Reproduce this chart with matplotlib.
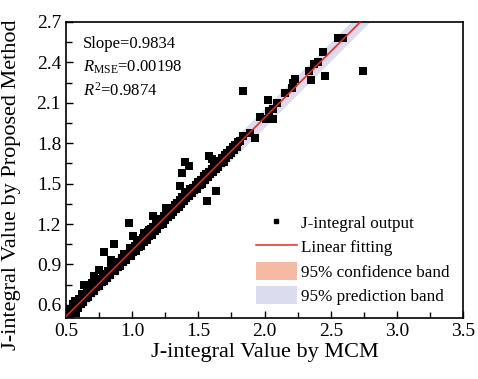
import numpy as np
import matplotlib as mpl
mpl.use('Agg')
from matplotlib import pyplot as plt
from matplotlib.lines import Line2D
from matplotlib.patches import Patch
from matplotlib.ticker import MultipleLocator


# J-integral: reference (MCM) vs proposed method
mcm_upper = [0.52, 0.55, 0.57, 0.60, 0.62, 0.64, 0.66, 0.68, 0.70, 0.72,
             0.74, 0.76, 0.78, 0.80, 0.82, 0.84, 0.86, 0.88, 0.90, 0.92,
             0.94, 0.96, 0.98, 1.00, 1.02, 1.04, 1.06, 1.08, 1.10, 1.12,
             1.14, 1.16, 1.18, 1.20, 1.22, 1.24, 1.26, 1.28, 1.30, 1.32,
             1.34, 1.36, 1.38, 1.40, 1.42, 1.44, 1.46, 1.48, 1.50, 1.52,
             1.54, 1.56, 1.58, 1.60, 1.62, 1.64, 1.66, 1.68, 1.70, 1.72,
             1.74, 1.76, 1.78, 1.80]
pm_upper = [0.56, 0.59, 0.63, 0.64, 0.68, 0.68, 0.72, 0.72, 0.76, 0.76,
            0.79, 0.79, 0.83, 0.83, 0.85, 0.88, 0.88, 0.92, 0.92, 0.95,
            0.98, 0.98, 1.02, 1.02, 1.04, 1.06, 1.08, 1.10, 1.12, 1.14,
            1.16, 1.18, 1.20, 1.22, 1.24, 1.26, 1.28, 1.30, 1.32, 1.34,
            1.36, 1.38, 1.40, 1.42, 1.44, 1.46, 1.47, 1.49, 1.51, 1.53,
            1.56, 1.57, 1.59, 1.61, 1.63, 1.65, 1.67, 1.69, 1.71, 1.73,
            1.75, 1.77, 1.79, 1.81]

mcm_lower = [0.53, 0.56, 0.59, 0.61, 0.63, 0.65, 0.67, 0.69, 0.71, 0.73,
             0.75, 0.77, 0.79, 0.81, 0.83, 0.85, 0.87, 0.89, 0.91, 0.93,
             0.95, 0.97, 0.99, 1.01, 1.03, 1.05, 1.07, 1.09, 1.11, 1.13,
             1.15, 1.17, 1.19, 1.21, 1.23, 1.25, 1.27, 1.29, 1.31, 1.33,
             1.35, 1.37, 1.39, 1.41, 1.43, 1.45, 1.47, 1.49, 1.51, 1.53,
             1.55, 1.57, 1.59, 1.61, 1.63, 1.65, 1.67, 1.69, 1.71, 1.73,
             1.75, 1.77, 1.79]
pm_lower = [0.53, 0.56, 0.58, 0.61, 0.62, 0.65, 0.66, 0.69, 0.70, 0.73,
            0.74, 0.77, 0.78, 0.80, 0.82, 0.85, 0.85, 0.88, 0.89, 0.92,
            0.93, 0.96, 0.96, 0.99, 1.00, 1.03, 1.04, 1.07, 1.08, 1.11,
            1.12, 1.15, 1.16, 1.19, 1.20, 1.23, 1.25, 1.27, 1.29, 1.31,
            1.33, 1.35, 1.37, 1.39, 1.41, 1.43, 1.45, 1.46, 1.49, 1.50,
            1.53, 1.55, 1.57, 1.59, 1.61, 1.62, 1.65, 1.66, 1.69, 1.71,
            1.73, 1.75, 1.77]

mcm_other = [0.55, 0.513, 0.576, 0.638, 0.676, 0.714, 0.752, 0.785, 0.84,
             0.865, 0.979, 1.004, 1.092, 1.13, 1.155, 1.256, 1.306, 1.362,
             1.375, 1.40, 1.43, 1.568, 1.631, 1.583, 1.60, 1.677,
             1.815, 1.84, 1.891, 1.836, 1.93, 1.966, 2.01, 2.067, 2.036,
             2.06, 2.025, 2.093, 2.155, 2.206, 2.213, 2.23, 2.337, 2.352,
             2.37, 2.407, 2.445, 2.458, 2.558, 2.591, 2.743]
pm_other = [0.61, 0.54, 0.54, 0.749, 0.737, 0.811, 0.861, 0.993, 0.935,
            1.052, 1.208, 1.109, 1.134, 1.158, 1.257, 1.32, 1.295, 1.486,
            1.58, 1.66, 1.63, 1.369, 1.443, 1.704, 1.68, 1.68,
            1.816, 1.853, 1.878, 2.188, 1.84, 1.994, 1.977, 1.982, 2.039,
            2.057, 2.12, 2.10, 2.176, 2.213, 2.245, 2.275, 2.336, 2.267,
            2.386, 2.40, 2.48, 2.30, 2.58, 2.58, 2.336]

slope = 0.9834
intercept = 0.023
r_mse = 0.00198
r_sq = 0.9874
conf_half = 0.008
pred_half = 0.07

plt.rcParams['font.family'] = 'Liberation Serif'
plt.rcParams['mathtext.fontset'] = 'custom'
plt.rcParams['mathtext.rm'] = 'Liberation Serif'
plt.rcParams['mathtext.it'] = 'Liberation Serif:italic'

fig = plt.figure(figsize=(4.78, 3.79), dpi=100)
ax = fig.add_axes([0.138, 0.160, 0.831, 0.782])

x_all = np.concatenate([mcm_upper, mcm_lower, mcm_other])
y_all = np.concatenate([pm_upper, pm_lower, pm_other])

xf = np.linspace(0.5, 2.8, 50)
yf = slope * xf + intercept
ax.fill_between(xf, yf - pred_half, yf + pred_half, color='#dcdcef', lw=0, zorder=1)
ax.fill_between(xf, yf - conf_half, yf + conf_half, color='#f6b9a3', lw=0, zorder=2)
ax.scatter(x_all, y_all, marker='s', s=30, color='black', lw=0, zorder=3)
ax.plot(xf, yf, color='#e8282a', lw=1.1, zorder=4)

ax.set_xlim(0.5, 3.5)
ax.set_ylim(0.5, 2.7)
ax.xaxis.set_major_locator(MultipleLocator(0.5))
ax.xaxis.set_minor_locator(MultipleLocator(0.25))
ax.set_yticks(np.arange(0.6, 2.71, 0.3))
ax.yaxis.set_minor_locator(MultipleLocator(0.15))
ax.tick_params(which='both', direction='in', top=False, right=False,
               labelsize=14, width=1.0)
ax.tick_params(which='major', length=5)
ax.tick_params(which='minor', length=4)
ax.set_yticklabels(['%.1f' % v for v in np.arange(0.6, 2.71, 0.3)])
for sp in ax.spines.values():
    sp.set_linewidth(1.2)

ax.set_xlabel('J-integral Value by MCM', fontsize=16, labelpad=2)
ax.set_ylabel('J-integral Value by Proposed Method', fontsize=16)
ax.yaxis.set_label_coords(-0.112, 0.45)

ax.text(0.043, 0.925, 'Slope=%.4f' % slope, transform=ax.transAxes,
        fontsize=12, va='center')
ax.text(0.043, 0.848, r'$R_{\mathrm{MSE}}$=%.5f' % r_mse, transform=ax.transAxes,
        fontsize=12, va='center')
ax.text(0.043, 0.768, r'$R^2$=%.4f' % r_sq, transform=ax.transAxes,
        fontsize=12, va='center')

handles = [
    Line2D([], [], marker='s', ls='none', color='black', markersize=3.5),
    Line2D([], [], color='#e8282a', lw=1.1),
    Patch(facecolor='#f6b9a3', edgecolor='none'),
    Patch(facecolor='#dcdcef', edgecolor='none'),
]
labels = ['J-integral output', 'Linear fitting', '95% confidence band',
          '95% prediction band']
ax.legend(handles, labels, loc='lower right', frameon=False, fontsize=12.3,
          handlelength=2.4, handleheight=1.3, handletextpad=0.25,
          labelspacing=0.3, borderaxespad=0.4)

fig.savefig('out.png', dpi=100)
